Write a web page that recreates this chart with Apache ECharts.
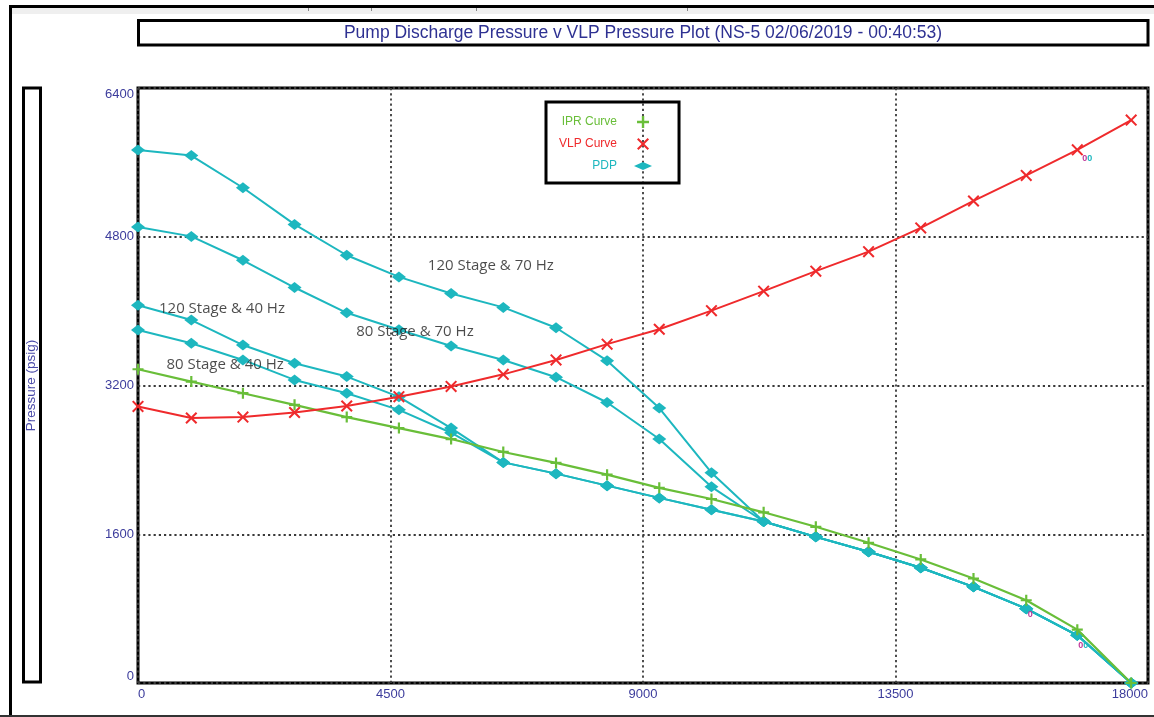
<!DOCTYPE html>
<html>
<head>
<meta charset="utf-8">
<script src="https://cdn.jsdelivr.net/npm/echarts@6/dist/echarts.min.js"></script>
<style>
  html, body { margin: 0; padding: 0; background: #ffffff; }
  #chart { width: 1154px; height: 717px; }
</style>
</head>
<body>
<div id="chart"></div>
<script>
// Liquid rate (x axis) at which each curve is evaluated
const rates = [0, 950, 1870, 2790, 3720, 4650, 5580, 6510, 7450, 8360,
               9290, 10220, 11150, 12080, 13020, 13950, 14890, 15830, 16740, 17700];

// Inflow performance relationship (psig)
const iprCurve = [3375, 3242, 3117, 2992, 2860, 2742, 2624, 2485, 2367, 2241,
                  2099, 1979, 1836, 1680, 1508, 1329, 1124, 890, 574, 0];

// Vertical lift performance (psig)
const vlpCurve = [2975, 2850, 2860, 2910, 2980, 3080, 3190, 3320, 3475, 3645,
                  3805, 4005, 4215, 4430, 4640, 4895, 5185, 5460, 5735, 6055];

// Pump discharge pressure for each stage count / frequency (psig)
const pdp120s70hz = [5734, 5673, 5327, 4933, 4601, 4368, 4190, 4040, 3821, 3467,
                     2957, 2262, 1737, 1572, 1411, 1239, 1034, 800, 513, 0];
const pdp80s70hz  = [4904, 4804, 4547, 4254, 3982, 3800, 3625, 3475, 3289, 3017,
                     2624, 2110, 1737, 1572, 1411, 1239, 1034, 800, 513, 0];
const pdp120s40hz = [4064, 3904, 3635, 3439, 3296, 3078, 2742, 2373, 2252, 2123,
                     1991, 1863, 1737, 1572, 1411, 1239, 1034, 800, 513, 0];
const pdp80s40hz  = [3796, 3654, 3475, 3260, 3117, 2938, 2692, 2373, 2252, 2123,
                     1991, 1863, 1737, 1572, 1411, 1239, 1034, 800, 513, 0];

// Axis ticks
const xTickValues = [0, 4500, 9000, 13500, 18000];
const yTickValues = [0, 1600, 3200, 4800, 6400];

// Curve captions and the (rate, pressure) point where each caption starts
const noteTexts   = ['120 Stage & 70 Hz', '120 Stage & 40 Hz', '80 Stage & 70 Hz', '80 Stage & 40 Hz'];
const noteAnchors = [[5165, 4492], [374, 4031], [3890, 3777], [506, 3420]];

const titleText = 'Pump Discharge Pressure v VLP Pressure Plot (NS-5 02/06/2019 - 00:40:53)';

const CYAN = '#1db7bf';
const GREEN = '#69be39';
const RED = '#ef2a2c';
const INK_BLUE = '#3c3c9c';
const SANS = "'Liberation Sans', Arial, sans-serif";

const PLUS = 'path://M4,0H6V4H10V6H6V10H4V6H0V4H4Z';
const CROSS = 'path://M1.2,0L5,3.8L8.8,0L10,1.2L6.2,5L10,8.8L8.8,10L5,6.2L1.2,10L0,8.8L3.8,5L0,1.2Z';
const FLAT_DIAMOND = 'path://M0,4L9,0L18,4L9,8Z';

const pairs = (ys) => rates.map((x, i) => [x, ys[i]]);

// small point tags near the far end of the curves
const tagRich = {
  m: { color: '#c0399a', fontSize: 9, fontWeight: 'bold', fontFamily: SANS },
  c: { color: CYAN, fontSize: 9, fontWeight: 'bold', fontFamily: SANS }
};
function tagged(ys, tags) {
  return pairs(ys).map((p, i) => {
    const t = tags[i];
    if (!t) return p;
    return {
      value: p,
      label: { show: true, position: 'bottom', distance: 0, offset: t.offset,
               formatter: t.text, rich: tagRich }
    };
  });
}

function pdpSeries(ys, tags) {
  return {
    type: 'line', name: 'PDP',
    data: tags ? tagged(ys, tags) : pairs(ys),
    symbol: 'diamond', symbolSize: [14, 11],
    itemStyle: { color: CYAN },
    lineStyle: { color: CYAN, width: 2 },
    label: { show: false },
    emphasis: { disabled: true },
    z: 2
  };
}

const chart = echarts.init(document.getElementById('chart'), null, { renderer: 'canvas' });

chart.setOption({
  animation: false,
  backgroundColor: '#ffffff',
  title: {
    text: titleText,
    left: 643, top: 24, textAlign: 'center', padding: 0,
    textStyle: { color: '#2e3192', fontSize: 17.5, fontWeight: 'normal', fontFamily: SANS, lineHeight: 18 }
  },
  grid: {
    left: 138, right: 6, top: 88, bottom: 34,
    show: true, borderColor: '#000000', borderWidth: 3, backgroundColor: 'transparent'
  },
  legend: {
    orient: 'vertical', align: 'right',
    left: 546, top: 102,
    padding: [14, 27, 11, 13],
    itemGap: 10, itemWidth: 18, itemHeight: 12,
    symbolKeepAspect: true,
    borderColor: '#000000', borderWidth: 3, borderRadius: 0,
    selectedMode: false,
    textStyle: { fontFamily: SANS, fontSize: 12, lineHeight: 12, padding: [0, 12, 0, 0] },
    data: [
      { name: 'IPR Curve', icon: PLUS, textStyle: { color: GREEN } },
      { name: 'VLP Curve', icon: CROSS, textStyle: { color: RED } },
      { name: 'PDP', icon: FLAT_DIAMOND, textStyle: { color: CYAN } }
    ]
  },
  xAxis: {
    type: 'value',
    min: xTickValues[0], max: xTickValues[xTickValues.length - 1],
    interval: xTickValues[1] - xTickValues[0],
    axisLine: { show: false },
    axisTick: { show: false },
    axisLabel: {
      color: INK_BLUE, fontFamily: SANS, fontSize: 13, margin: 5,
      alignMinLabel: 'left', alignMaxLabel: 'right',
      formatter: (v) => String(v)
    },
    splitLine: { show: true, lineStyle: { color: '#3a3a3a', width: 1.8, type: [2.2, 3] } }
  },
  yAxis: {
    type: 'value',
    min: yTickValues[0], max: yTickValues[yTickValues.length - 1],
    interval: yTickValues[1] - yTickValues[0],
    name: 'Pressure (psig)',
    nameLocation: 'middle', nameRotate: 90, nameGap: 100,
    nameTextStyle: { color: '#4a4aa8', fontFamily: SANS, fontSize: 13.5 },
    axisLine: { show: false },
    axisTick: { show: false },
    axisLabel: {
      color: INK_BLUE, fontFamily: SANS, fontSize: 13, margin: 4,
      verticalAlignMinLabel: 'bottom', verticalAlignMaxLabel: 'top',
      formatter: (v) => String(v)
    },
    splitLine: { show: true, lineStyle: { color: '#3a3a3a', width: 1.8, type: [2.2, 3] } }
  },
  series: [
    pdpSeries(pdp120s70hz),
    pdpSeries(pdp80s70hz),
    pdpSeries(pdp120s40hz),
    pdpSeries(pdp80s40hz, {
      17: { text: '{m|0}', offset: [4, -4] },
      18: { text: '{m|0}{c|0}', offset: [6, 0] }
    }),
    {
      type: 'line', name: 'IPR Curve',
      data: pairs(iprCurve),
      symbol: PLUS, symbolSize: 11,
      itemStyle: { color: GREEN },
      lineStyle: { color: GREEN, width: 2.2 },
      emphasis: { disabled: true },
      z: 3
    },
    {
      type: 'line', name: 'VLP Curve',
      data: tagged(vlpCurve, { 18: { text: '{m|0}{c|0}', offset: [10, -2] } }),
      symbol: CROSS, symbolSize: 12,
      itemStyle: { color: RED },
      lineStyle: { color: RED, width: 2 },
      emphasis: { disabled: true },
      z: 4
    },
    {
      type: 'scatter', name: 'captions',
      data: noteAnchors.map((p, i) => ({ value: p, name: noteTexts[i] })),
      symbolSize: 0,
      silent: true,
      label: {
        show: true, position: 'right', distance: 0,
        formatter: (p) => p.name,
        color: '#1e1e1e', fontFamily: "'Open Sans', 'Noto Sans', sans-serif", fontSize: 15
      },
      z: 5
    }
  ],
  graphic: [
    // outer frame
    { type: 'rect', shape: { x: 9, y: 5, width: 1145, height: 3 }, style: { fill: '#000000' }, silent: true },
    { type: 'rect', shape: { x: 12, y: 8, width: 1142, height: 6 }, style: { fill: '#efefef' }, silent: true },
    { type: 'rect', shape: { x: 9, y: 5, width: 3, height: 712 }, style: { fill: '#000000' }, silent: true },
    { type: 'rect', shape: { x: 0, y: 715, width: 1154, height: 2 }, style: { fill: '#333333' }, silent: true },
    { type: 'rect', shape: { x: 308, y: 8, width: 1, height: 3 }, style: { fill: '#888888' }, silent: true },
    { type: 'rect', shape: { x: 371, y: 8, width: 1, height: 3 }, style: { fill: '#888888' }, silent: true },
    { type: 'rect', shape: { x: 476, y: 8, width: 1, height: 3 }, style: { fill: '#888888' }, silent: true },
    { type: 'rect', shape: { x: 687, y: 8, width: 1, height: 3 }, style: { fill: '#888888' }, silent: true },
    // title box
    { type: 'rect', shape: { x: 138.5, y: 20.5, width: 1009.5, height: 24.5 },
      style: { fill: 'none', stroke: '#000000', lineWidth: 3 }, silent: true, z: -1 },
    // axis-name box
    { type: 'rect', shape: { x: 23.5, y: 88, width: 17, height: 594 },
      style: { fill: 'none', stroke: '#000000', lineWidth: 3 }, silent: true, z: -1 }
  ]
});
</script>
</body>
</html>
